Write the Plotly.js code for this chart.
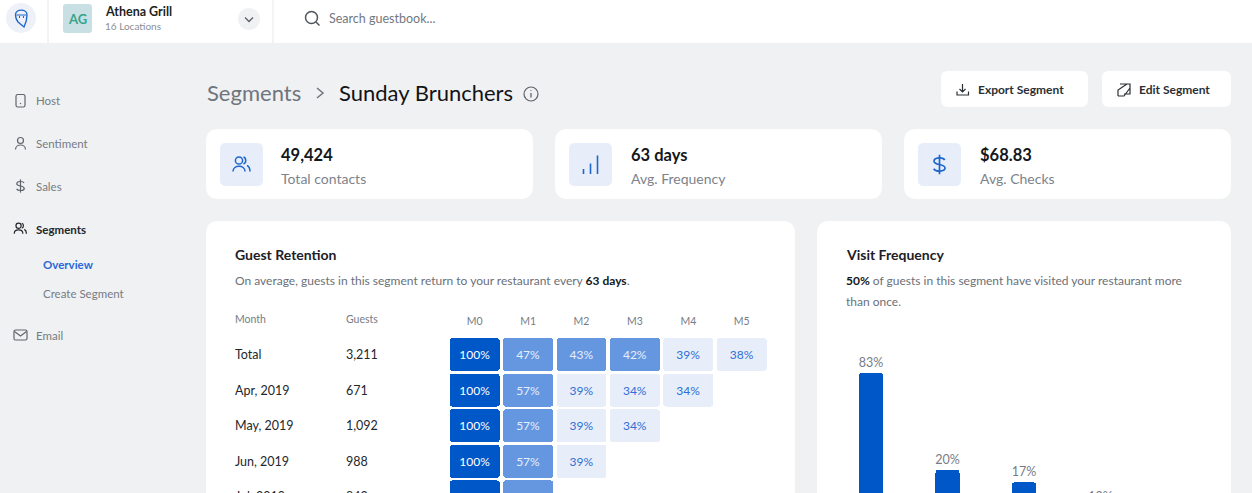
<!DOCTYPE html>
<html><head><meta charset="utf-8">
<script src="https://cdn.plot.ly/plotly-3.0.1.min.js"></script>
<style>html,body{margin:0;padding:0;width:1252px;height:493px;overflow:hidden;background:#f0f1f3}#g{position:absolute;left:0;top:0}</style>
</head><body><div id="g"></div>
<script>
// ---- data ----
const periods = ["M0","M1","M2","M3","M4","M5"];
const months = ["Total","Apr, 2019","May, 2019","Jun, 2019","Jul, 2019"];
const guests = ["3,211","671","1,092","988","842"];
const retTotal = [100,47,43,42,39,38];
const retApr = [100,57,39,34,34];
const retMay = [100,57,39,34];
const retJun = [100,57,39];
const retJul = [100,57];
const visitLabels = ["83%","20%","17%","10%"];
const visitBars = [83,40,34.5,23.5];   // bar lengths as drawn in the picture
const visitSlots = ["a","b","c","d"];

const FONT = "Lato, sans-serif";
const W = 1252, H = 640;
const px = x => x / W, py = y => 1 - y / H;
const BLUE = "#0057c8", MID = "#6597e0", PALE = "#e7eefa", ICON = "#1f66cc", GREY = "#767c85", DARK = "#14171c";

const shapes = [], annotations = [];
function path(d, o = {}) {
  let i = 0;
  const p = d.replace(/-?\d+(\.\d+)?/g, n => (i++ % 2 === 0) ? px(+n).toFixed(5) : py(+n).toFixed(5));
  shapes.push(Object.assign({type:"path", xref:"paper", yref:"paper", path:p, layer:"below",
    fillcolor:o.fill || "rgba(0,0,0,0)", line:{color:o.color || "rgba(0,0,0,0)", width:o.w === undefined ? 0 : o.w}}));
}
function rrect(x0, y0, x1, y1, r, fill, color, w) {
  path(`M${x0+r} ${y0} L${x1-r} ${y0} Q${x1} ${y0} ${x1} ${y0+r} L${x1} ${y1-r} Q${x1} ${y1} ${x1-r} ${y1} L${x0+r} ${y1} Q${x0} ${y1} ${x0} ${y1-r} L${x0} ${y0+r} Q${x0} ${y0} ${x0+r} ${y0} Z`, {fill, color, w});
}
function circ(cx, cy, r, fill, color, w) {
  shapes.push({type:"circle", xref:"paper", yref:"paper", x0:px(cx-r), x1:px(cx+r), y0:py(cy+r), y1:py(cy-r), layer:"below",
    fillcolor:fill || "rgba(0,0,0,0)", line:{color:color || "rgba(0,0,0,0)", width:w || 0}});
}
function line(d, color, w) { path(d, {color, w}); }
function txt(x, y, text, size, color, weight, anchor) {
  annotations.push({xref:"paper", yref:"paper", x:px(x), y:py(y), text, showarrow:false, xanchor:anchor || "left", yanchor:"middle",
    borderpad:0, font:{family:FONT, size, color, weight:weight || 400}});
}
function users(ox, oy, s, color, w) {
  circ(ox-2*s, oy-4.5*s, 3.6*s, null, color, w);
  line(`M${ox-8*s} ${oy+6.5*s} C${ox-8*s} ${oy-0.5*s} ${ox+4*s} ${oy-0.5*s} ${ox+4*s} ${oy+6.5*s}`, color, w);
  line(`M${ox+2.5*s} ${oy-8*s} C${ox+5.5*s} ${oy-7*s} ${ox+5.5*s} ${oy-2*s} ${ox+2.5*s} ${oy-1*s}`, color, w);
  line(`M${ox+6*s} ${oy+0.5*s} C${ox+8*s} ${oy+1.5*s} ${ox+9*s} ${oy+3.5*s} ${ox+9*s} ${oy+6.5*s}`, color, w);
}
function dollar(cx, cy, s, color, w) {
  line(`M${cx+4.2*s} ${cy-3.6*s} C${cx+3*s} ${cy-6*s} ${cx-4.4*s} ${cy-6*s} ${cx-4.4*s} ${cy-2.6*s} C${cx-4.4*s} ${cy+1*s} ${cx+4.4*s} ${cy-1*s} ${cx+4.4*s} ${cy+2.8*s} C${cx+4.4*s} ${cy+6*s} ${cx-3.2*s} ${cy+6*s} ${cx-4.6*s} ${cy+3.4*s}`, color, w);
  line(`M${cx} ${cy-7.8*s} L${cx} ${cy+7.8*s}`, color, w);
}

// ---- page chrome ----
rrect(0,-10,1252,43,0,"#ffffff");
line("M48 0 L48 43","#e7e8ea",1); line("M273 0 L273 43","#e7e8ea",1);
circ(21,18,15,"#eef1f7");
path("M15.5 15 C15.5 8.5 27 8.5 27 15 C27 20 25.5 24 24 27 L18 22 C16.5 20 15.5 18 15.5 15 Z",{color:ICON,w:1.4});
line("M16.5 15 L26 15 M19.5 16 L19.5 18 M23.5 16 L23.5 18",ICON,1.1);
rrect(63,4,92,33,3,"#c8dfe3");
txt(77.5,19,"AG",13,"#37a58c",700,"center");
txt(104,11.5,"Athena Grill",12.5,"#1c1f24",700);
txt(104,26,"16 Locations",10,"#8b9097");
circ(249,19,11,"#f0f1f3");
line("M245 17.5 L249 21.5 L253 17.5","#5b6068",1.3);
circ(311.5,17.5,6,null,"#4f555d",1.5);
line("M316 22 L319.5 25.5","#4f555d",1.5);
txt(328,18.5,"Search guestbook...",12.5,"#73787f");

// sidebar
rrect(16,94.5,25,107,1.8,null,"#5f656c",1.2); circ(20.5,103.5,0.7,"#5f656c");
txt(35,100.5,"Host",11.5,GREY);
circ(20.5,140.5,3,null,"#5f656c",1.2);
line("M15.5 149.5 C15.5 143.5 25.5 143.5 25.5 149.5","#5f656c",1.2);
txt(35,143.5,"Sentiment",11.5,GREY);
dollar(20.5,186,0.85,"#5f656c",1.2);
txt(35,186,"Sales",11.5,GREY);
users(20,229,0.72,"#23272d",1.2);
txt(35,229,"Segments",11.5,"#23272d",700);
txt(42,264.5,"Overview",11.5,"#2a68d8",700);
txt(42,293,"Create Segment",11.5,GREY);
rrect(14,330,27,340,1.5,null,"#5f656c",1.2);
line("M14.5 331.5 L20.5 336 L26.5 331.5","#5f656c",1.2);
txt(35,335.5,"Email",11.5,GREY);

// header
txt(206,93,"Segments",22,"#6f757d");
line("M317 88 L323 93 L317 98","#6f757d",1.5);
txt(338,93,"Sunday Brunchers",22,"#121418");
circ(531,94,7,null,"#5d6269",1.2);
line("M531 93 L531 97.5","#5d6269",1.3); circ(531,90.5,0.6,"#5d6269");

rrect(941,71,1088,107,7,"#ffffff");
line("M962.5 84 L962.5 91.5 M959.5 89 L962.5 92 L965.5 89 M957 91.5 L957 95 L968.5 95 L968.5 91.5","#2b2f35",1.2);
txt(977,89.5,"Export Segment",12,"#2b2f35",700);
rrect(1102,71,1231,107,7,"#ffffff");
line("M1120 84 L1130 84 L1130 94 L1124 94 M1118 96 L1118 90 L1127 84 M1118 96 L1124 96 L1130 88","#2b2f35",1.2);
txt(1138,89.5,"Edit Segment",12,"#2b2f35",700);

// KPI cards
[[206,533],[555,882],[904,1231]].forEach(c => rrect(c[0],129,c[1],199,13,"#ffffff"));
[220,569,918].forEach(x => rrect(x,143,x+43,186,6,PALE));
users(241,165,1,ICON,1.5);
line("M583.5 169 L583.5 174 M590.5 163.5 L590.5 174 M597.5 155.5 L597.5 174",ICON,1.6);
dollar(939.5,164.5,1.25,ICON,1.7);
txt(280,154.5,"49,424",16.5,DARK,700); txt(280,178.5,"Total contacts",14,"#7d838b");
txt(630,154.5,"63 days",16.5,DARK,700); txt(630,178.5,"Avg. Frequency",14,"#7d838b");
txt(979,154.5,"$68.83",16.5,DARK,700); txt(979,178.5,"Avg. Checks",14,"#7d838b");

// chart cards
rrect(206,221,795,660,13,"#ffffff");
rrect(817,221,1231,660,13,"#ffffff");
txt(234,254,"Guest Retention",14,"#1d2026",700);
txt(234,280.5,"On average, guests in this segment return to your restaurant every <b style='color:#14171c'>63 days</b>.",12,"#6b7078");
txt(234,318.5,"Month",10.5,"#767c85");
txt(345,318.5,"Guests",10.5,"#767c85");
txt(845,254,"Visit Frequency",14,"#1d2026",700);
txt(845,280.5,"<b style='color:#14171c'>50%</b> of guests in this segment have visited your restaurant more",12,"#6b7078");
txt(845,301.5,"than once.",12,"#6b7078");

months.forEach((m,i) => {
  annotations.push({xref:"paper", yref:"y", x:px(234), y:i, text:m, showarrow:false, xanchor:"left", yanchor:"middle", borderpad:0, font:{family:FONT,size:12.5,color:"#24272c"}});
  annotations.push({xref:"paper", yref:"y", x:px(345), y:i, text:guests[i], showarrow:false, xanchor:"left", yanchor:"middle", borderpad:0, font:{family:FONT,size:12.5,color:"#24272c"}});
});

// ---- retention grid ----
const rows = [retTotal,retApr,retMay,retJun,retJul];
const cx=[],cy=[],cb=[],cv=[],ct=[],cc=[];
rows.forEach((r,i) => r.forEach((v,j) => {
  cx.push(periods[j]); cy.push(0.927); cb.push(i-0.4635); cv.push(v); ct.push(v+"%");
  cc.push(v>=100 ? "#ffffff" : v>=40 ? "#e6eefb" : "#2f6fd6");
}));
const retention = {type:"bar", x:cx, y:cy, base:cb, width:0.935, xaxis:"x", yaxis:"y",
  text:ct, textposition:"inside", insidetextanchor:"middle", textangle:0, constraintext:"none",
  textfont:{family:FONT,size:12,color:cc}, hoverinfo:"skip",
  marker:{color:cv, cmin:0, cmax:100, showscale:false, cornerradius:3, line:{width:0},
    colorscale:[[0,PALE],[0.4,PALE],[0.4,MID],[0.8,MID],[0.8,BLUE],[1,BLUE]]}};

// ---- visit frequency bars ----
const visits = {type:"bar", x:visitSlots, y:visitBars, width:0.314, xaxis:"x2", yaxis:"y2",
  text:visitLabels, textposition:"outside", cliponaxis:false, textangle:0, constraintext:"none",
  textfont:{family:FONT,size:12.5,color:"#767c85"}, hoverinfo:"skip",
  marker:{color:BLUE, cornerradius:3, line:{width:0}}};

const rowH = 35.6, rowTop = 336.7, colW = 53.4, colL = 448;
const layout = {
  width:W, height:H, margin:{l:0,r:0,t:0,b:0}, autosize:false, showlegend:false,
  paper_bgcolor:"#f0f1f3", plot_bgcolor:"rgba(0,0,0,0)", barmode:"overlay", bargap:0,
  xaxis:{domain:[px(colL), px(colL+colW*6)], type:"category", categoryorder:"array", categoryarray:periods, range:[-0.5,5.5],
    side:"top", anchor:"y", showgrid:false, zeroline:false, showline:false, ticks:"outside", ticklen:7, tickcolor:"rgba(0,0,0,0)",
    tickfont:{family:FONT,size:10.5,color:"#767c85"}, fixedrange:true},
  yaxis:{domain:[py(rowTop+rowH*months.length), py(rowTop)], range:[months.length-0.5,-0.5], anchor:"x",
    showgrid:false, zeroline:false, showline:false, showticklabels:false, ticks:"", fixedrange:true},
  xaxis2:{domain:[px(832.75), px(1138.75)], type:"category", categoryorder:"array", categoryarray:visitSlots, range:[-0.5,3.5],
    anchor:"y2", showgrid:false, zeroline:false, showline:false, showticklabels:false, ticks:"", fixedrange:true},
  yaxis2:{domain:[py(560), py(373-2.25*17)], range:[0,100], anchor:"x2",
    showgrid:false, zeroline:false, showline:false, showticklabels:false, ticks:"", fixedrange:true},
  shapes, annotations
};
Plotly.newPlot("g",[retention,visits],layout,{displayModeBar:false,staticPlot:true});
</script></body></html>
